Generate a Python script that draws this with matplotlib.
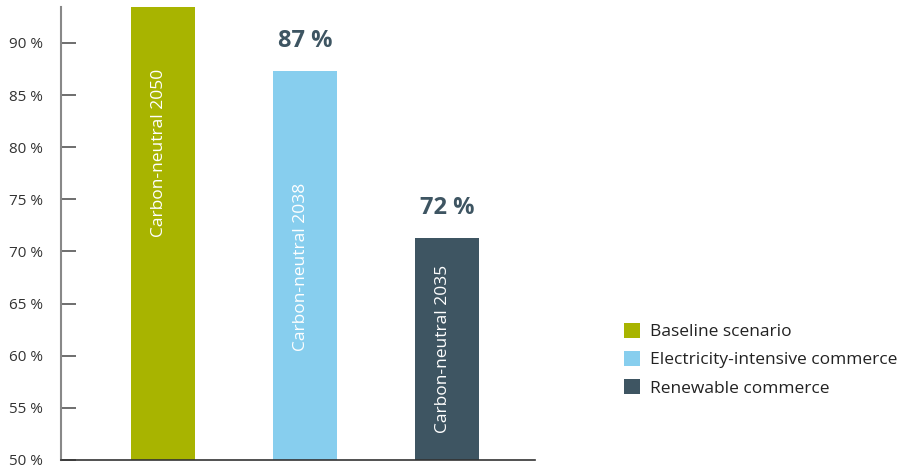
import matplotlib.pyplot as plt
from matplotlib.ticker import FuncFormatter

plt.rcParams['font.family'] = ['Open Sans', 'DejaVu Sans']

# data
scenarios = ['Baseline scenario', 'Electricity-intensive commerce', 'Renewable commerce']
values = [100.0, 87.3, 71.3]
value_labels = [None, '87 %', '72 %']
bar_texts = ['Carbon-neutral 2050', 'Carbon-neutral 2038', 'Carbon-neutral 2035']
text_pos = [79.5, 68.5, 60.7]
colors = ['#a8b400', '#87ceee', '#3e5562']
yticks = [50, 55, 60, 65, 70, 75, 80, 85, 90]

fig = plt.figure(figsize=(9.02, 4.67), dpi=100)
ax = fig.add_axes([0.0676, 0.015, 0.526, 0.970])

x = list(range(len(values)))
bars = ax.bar(x, values, width=0.45, color=colors, label=scenarios, zorder=2)

for xi, txt, ty in zip(x, bar_texts, text_pos):
    ax.text(xi - 0.03, ty, txt, rotation=90, ha='center', va='center',
            color='white', fontsize=12.5)

for xi, v, lab in zip(x, values, value_labels):
    if lab:
        ax.annotate(lab, (xi, v), xytext=(0, 13), textcoords='offset points',
                    ha='center', va='bottom', fontsize=17, fontweight='bold',
                    color='#3e5562')

ax.set_xlim(-0.718, 2.62)
ax.set_ylim(50, 93.45)
ax.set_yticks(yticks)
ax.yaxis.set_major_formatter(FuncFormatter(lambda v, p: f'{v:.0f} %'))
ax.set_xticks([])
ax.tick_params(axis='y', direction='in', length=11, width=1.2, color='#555555',
               labelsize=11, labelcolor='#333333', pad=13)
for s in ['top', 'right']:
    ax.spines[s].set_visible(False)
ax.spines['left'].set_color('#888888')
ax.spines['left'].set_linewidth(1.5)
ax.spines['bottom'].set_color('#333333')
ax.spines['bottom'].set_linewidth(1.2)

ax.legend(handles=bars, labels=scenarios, loc='center left',
          bbox_to_anchor=(0.674, 0.23), bbox_transform=fig.transFigure,
          frameon=False, fontsize=12.5, handlelength=0.95, handleheight=0.95,
          handletextpad=0.55, labelspacing=0.62, labelcolor='#222222')

fig.savefig('out.png', dpi=100)
